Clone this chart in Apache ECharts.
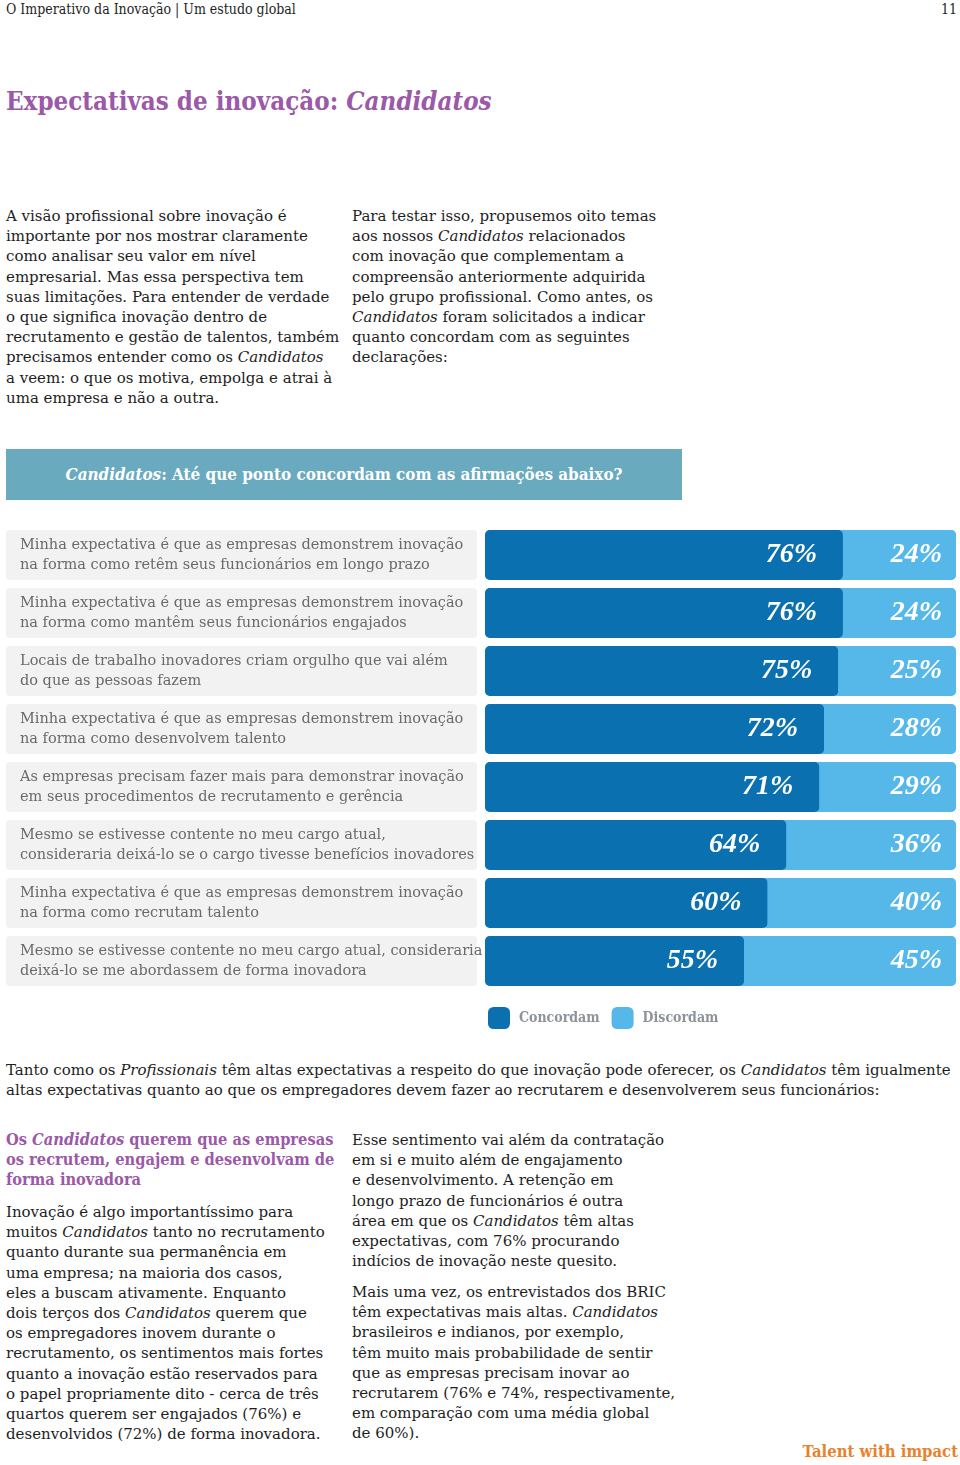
<!DOCTYPE html>
<html>
<head>
<meta charset="utf-8">
<script src="https://cdn.jsdelivr.net/npm/echarts@6/dist/echarts.min.js"></script>
<style>
  html, body { margin: 0; padding: 0; background: #fff; }
  body { width: 960px; height: 1465px; position: relative; overflow: hidden;
         font-family: "DejaVu Serif", serif; color: #1e1e1e; }
  .abs { position: absolute; white-space: pre; }
  .body { font-size: 15px; line-height: 20.2px; }
  .hdr { font-family: "DejaVu Serif Condensed", "DejaVu Serif", serif; font-size: 14px; top: 1px; line-height: 16px; }
  .title { font-family: "DejaVu Serif Condensed", "DejaVu Serif", serif; left: 6px; top: 84px; font-size: 25.7px; font-weight: bold; color: #9b59a8; line-height: 34px; }
  .bar { font-family: "DejaVu Serif Condensed", "DejaVu Serif", serif; left: 6px; top: 449px; width: 676px; height: 51px; background: #6aaabf; color: #fff;
         font-weight: bold; font-size: 16.9px; line-height: 51px; text-align: center; }
  .sub { font-family: "DejaVu Serif Condensed", "DejaVu Serif", serif; font-size: 16.3px; line-height: 20.2px; font-weight: bold; color: #9b59a8; }
  .foot { font-family: "DejaVu Serif Condensed", "DejaVu Serif", serif; right: 2px; top: 1442px; font-size: 16.5px; font-weight: bold; color: #e8822b; line-height: 20px; }
  #chart { position: absolute; left: 0; top: 440px; width: 960px; height: 600px; }
</style>
</head>
<body>
<div class="abs hdr" style="left:6px;">O Imperativo da Inovação | Um estudo global</div>
<div class="abs hdr" style="right:3px;">11</div>
<div class="abs title">Expectativas de inovação: <i>Candidatos</i></div>

<div class="abs body" style="left:6px; top:206px;">A visão profissional sobre inovação é
importante por nos mostrar claramente
como analisar seu valor em nível
empresarial. Mas essa perspectiva tem
suas limitações. Para entender de verdade
o que significa inovação dentro de
recrutamento e gestão de talentos, também
precisamos entender como os <i>Candidatos</i>
a veem: o que os motiva, empolga e atrai à
uma empresa e não a outra.</div>

<div class="abs body" style="left:352px; top:206px;">Para testar isso, propusemos oito temas
aos nossos <i>Candidatos</i> relacionados
com inovação que complementam a
compreensão anteriormente adquirida
pelo grupo profissional. Como antes, os
<i>Candidatos</i> foram solicitados a indicar
quanto concordam com as seguintes
declarações:</div>

<div class="abs bar"><i>Candidatos</i>: Até que ponto concordam com as afirmações abaixo?</div>

<div id="chart"></div>

<div class="abs body" style="left:6px; top:1060px;">Tanto como os <i>Profissionais</i> têm altas expectativas a respeito do que inovação pode oferecer, os <i>Candidatos</i> têm igualmente
altas expectativas quanto ao que os empregadores devem fazer ao recrutarem e desenvolverem seus funcionários:</div>

<div class="abs sub" style="left:6px; top:1130px;">Os <i>Candidatos</i> querem que as empresas
os recrutem, engajem e desenvolvam de
forma inovadora</div>

<div class="abs body" style="left:6px; top:1202px;">Inovação é algo importantíssimo para
muitos <i>Candidatos</i> tanto no recrutamento
quanto durante sua permanência em
uma empresa; na maioria dos casos,
eles a buscam ativamente. Enquanto
dois terços dos <i>Candidatos</i> querem que
os empregadores inovem durante o
recrutamento, os sentimentos mais fortes
quanto a inovação estão reservados para
o papel propriamente dito - cerca de três
quartos querem ser engajados (76%) e
desenvolvidos (72%) de forma inovadora.</div>

<div class="abs body" style="left:352px; top:1130px;">Esse sentimento vai além da contratação
em si e muito além de engajamento
e desenvolvimento. A retenção em
longo prazo de funcionários é outra
área em que os <i>Candidatos</i> têm altas
expectativas, com 76% procurando
indícios de inovação neste quesito.</div>

<div class="abs body" style="left:352px; top:1282px;">Mais uma vez, os entrevistados dos BRIC
têm expectativas mais altas. <i>Candidatos</i>
brasileiros e indianos, por exemplo,
têm muito mais probabilidade de sentir
que as empresas precisam inovar ao
recrutarem (76% e 74%, respectivamente,
em comparação com uma média global
de 60%).</div>

<div class="abs foot">Talent with impact</div>

<script>
// ---- data ----
var statements = [
  "Minha expectativa é que as empresas demonstrem inovação\nna forma como retêm seus funcionários em longo prazo",
  "Minha expectativa é que as empresas demonstrem inovação\nna forma como mantêm seus funcionários engajados",
  "Locais de trabalho inovadores criam orgulho que vai além\ndo que as pessoas fazem",
  "Minha expectativa é que as empresas demonstrem inovação\nna forma como desenvolvem talento",
  "As empresas precisam fazer mais para demonstrar inovação\nem seus procedimentos de recrutamento e gerência",
  "Mesmo se estivesse contente no meu cargo atual,\nconsideraria deixá-lo se o cargo tivesse benefícios inovadores",
  "Minha expectativa é que as empresas demonstrem inovação\nna forma como recrutam talento",
  "Mesmo se estivesse contente no meu cargo atual, consideraria\ndeixá-lo se me abordassem de forma inovadora"
];
var concordam = [76, 76, 75, 72, 71, 64, 60, 55];
var discordam = [24, 24, 25, 28, 29, 36, 40, 45];
var seriesNames = ["Concordam", "Discordam"];

var DARK = "#0a70b0", LIGHT = "#56b8e9";
var labelFont = "Liberation Serif";

var chart = echarts.init(document.getElementById("chart"), null, { renderer: "canvas" });
chart.setOption({
  animation: false,
  grid: { left: 485, right: 4, top: 86, bottom: 50, containLabel: false },
  legend: {
    data: seriesNames,
    left: 483, top: 562,
    icon: "roundRect", itemWidth: 22, itemHeight: 22, itemGap: 12,
    textStyle: { color: "#8c9399", fontWeight: "bold", fontSize: 14,
                 fontFamily: "DejaVu Serif Condensed", padding: [0, 0, 0, 4] }
  },
  xAxis: { type: "value", min: 0, max: 100, show: false },
  yAxis: {
    type: "category", data: statements, inverse: true,
    axisLine: { show: false }, axisTick: { show: false },
    axisLabel: {
      align: "left", margin: 479,
      width: 443, padding: [5, 14], lineHeight: 20,
      backgroundColor: "#f2f2f2", borderRadius: 4,
      color: "#6a6a6a", fontSize: 14.5, fontFamily: "DejaVu Serif",
      overflow: "none"
    }
  },
  series: [
    {
      name: seriesNames[0], type: "bar", stack: "t", barWidth: 50, data: concordam,
      itemStyle: { color: DARK, borderRadius: 5 },
      showBackground: true,
      backgroundStyle: { color: LIGHT, borderRadius: 5 },
      label: { show: true, position: "insideRight", distance: 26, formatter: "{c}%",
               color: "#fff", fontFamily: labelFont, fontWeight: "bold", fontStyle: "italic", fontSize: 28 }
    },
    {
      name: seriesNames[1], type: "bar", stack: "t", barWidth: 50, data: discordam,
      itemStyle: { color: LIGHT, borderRadius: [0, 5, 5, 0] },
      label: { show: true, position: "insideRight", distance: 14, formatter: "{c}%",
               color: "#fff", fontFamily: labelFont, fontWeight: "bold", fontStyle: "italic", fontSize: 28 }
    }
  ]
});
</script>
</body>
</html>
